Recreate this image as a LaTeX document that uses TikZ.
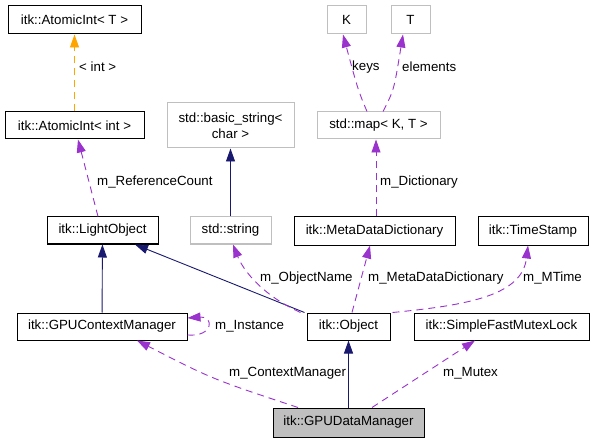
\documentclass[tikz,border=0pt]{standalone}
\usepackage{fontspec}
\setmainfont{Liberation Sans}
\usetikzlibrary{arrows.meta}
\definecolor{edgenavy}{HTML}{191970}
\definecolor{edgepurple}{HTML}{9A32CD}
\definecolor{edgeorange}{HTML}{FFA500}
\definecolor{boxgray}{HTML}{BFBFBF}

\begin{document}
\begin{tikzpicture}[x=1pt,y=-1pt,
  every node/.style={inner sep=0pt,font=\fontsize{13.3}{16}\selectfont},
  cls/.style={draw=black,line width=1pt,minimum height=28pt,align=center},
  extcls/.style={cls,draw=boxgray},
  focuscls/.style={cls,fill=boxgray},
  inherit/.style={draw=edgenavy,line width=0.9pt,-{Triangle[length=13pt,width=9pt]}},
  member/.style={draw=edgepurple,line width=0.9pt,dash pattern=on 7pt off 5pt,-{Triangle[length=13pt,width=9pt]}},
  tmplarg/.style={member,draw=edgeorange},
  lbl/.style={anchor=west}]
\useasboundingbox (0,0) rectangle (593,443);
\node [cls,minimum width=133pt] (atomicT) at (74.5,20) {itk::AtomicInt< T >};
\node [cls,minimum width=139pt,minimum height=27pt] (atomicint) at (74.5,125.5) {itk::AtomicInt< int >};
\node [extcls,minimum width=127pt,minimum height=45pt] (basicstr) at (230.5,125.5) {std::basic\_string<\\char >};
\node [extcls,minimum width=39pt] (keyK) at (346.5,20) {K};
\node [extcls,minimum width=39pt] (typeT) at (410.5,20) {T};
\node [extcls,minimum width=123pt,minimum height=27pt] (stdmap) at (378.5,125.5) {std::map< K, T >};
\node [cls,minimum width=111pt,minimum height=27pt] (lightobj) at (102.5,230.5) {itk::LightObject};
\node [extcls,minimum width=81pt,minimum height=27pt] (stdstring) at (230.5,230.5) {std::string};
\node [cls,minimum width=161pt] (metadict) at (374.5,231) {itk::MetaDataDictionary};
\node [cls,minimum width=110pt] (timestamp) at (533,231) {itk::TimeStamp};
\node [cls,minimum width=170pt,minimum height=27pt] (gpuctx) at (102,326.5) {itk::GPUContextManager};
\node [cls,minimum width=83pt,minimum height=27pt] (object) at (348.5,326.5) {itk::Object};
\node [cls,minimum width=175pt,minimum height=27pt] (mutexlock) at (501.5,326.5) {itk::SimpleFastMutexLock};
\node [focuscls,minimum width=151pt,minimum height=29pt] (gpudata) at (348.5,422.5) {itk::GPUDataManager};
\draw [tmplarg] (atomicint.north) -- (atomicT.south);
\draw [member] ([xshift=-4.5pt]lightobj.north) -- ([xshift=3.5pt]atomicint.south);
\draw [inherit] (stdstring) -- (basicstr);
\draw [member] ([xshift=-11.5pt]stdmap.north) .. controls (358,90) .. ([xshift=-3.5pt]keyK.south);
\draw [member] ([xshift=4.5pt]stdmap.north) .. controls (394,90) .. ([xshift=-7.5pt]typeT.south);
\draw [member] ([xshift=1.5pt]metadict.north) -- ([xshift=-2.5pt]stdmap.south);
\draw [inherit] (gpuctx) -- (lightobj);
\draw [inherit] ([xshift=-2pt]object.north west) -- ([xshift=32.5pt]lightobj.south);
\draw [member] ([xshift=-6pt]object.north west) .. controls (262,295) and (243,270) .. ([xshift=2.5pt]stdstring.south);
\draw [member] ([xshift=3.5pt]object.north) -- ([xshift=-4.5pt]metadict.south);
\draw [member] ([xshift=2pt]object.north east) .. controls (470,305) and (522,295) .. ([xshift=-5pt]timestamp.south);
\draw [member] ([yshift=-8.5pt]gpuctx.east) .. controls (214,337) and (214,316) .. ([yshift=8.5pt]gpuctx.east);
\draw [member] ([xshift=-50.5pt]gpudata.north) .. controls (212,379) .. ([xshift=35pt]gpuctx.south);
\draw [inherit] (gpudata) -- (object);
\draw [member] ([xshift=23.5pt]gpudata.north) -- ([xshift=-26.5pt]mutexlock.south);
\node [lbl] (lblint) at (79,67) {< int >};
\node [lbl] (lblrefcount) at (97,182) {m\_ReferenceCount};
\node [lbl] (lblkeys) at (352,67) {keys};
\node [lbl] (lblelements) at (402,67) {elements};
\node [lbl] (lbldict) at (380,182) {m\_Dictionary};
\node [lbl] (lblobjname) at (260,278) {m\_ObjectName};
\node [lbl] (lblmetadict) at (368,278) {m\_MetaDataDictionary};
\node [lbl] (lblmtime) at (523,278) {m\_MTime};
\node [lbl] (lblinstance) at (215,326) {m\_Instance};
\node [lbl] (lblctxmgr) at (229,373) {m\_ContextManager};
\node [lbl] (lblmutex) at (443,373) {m\_Mutex};
\end{tikzpicture}
\end{document}
